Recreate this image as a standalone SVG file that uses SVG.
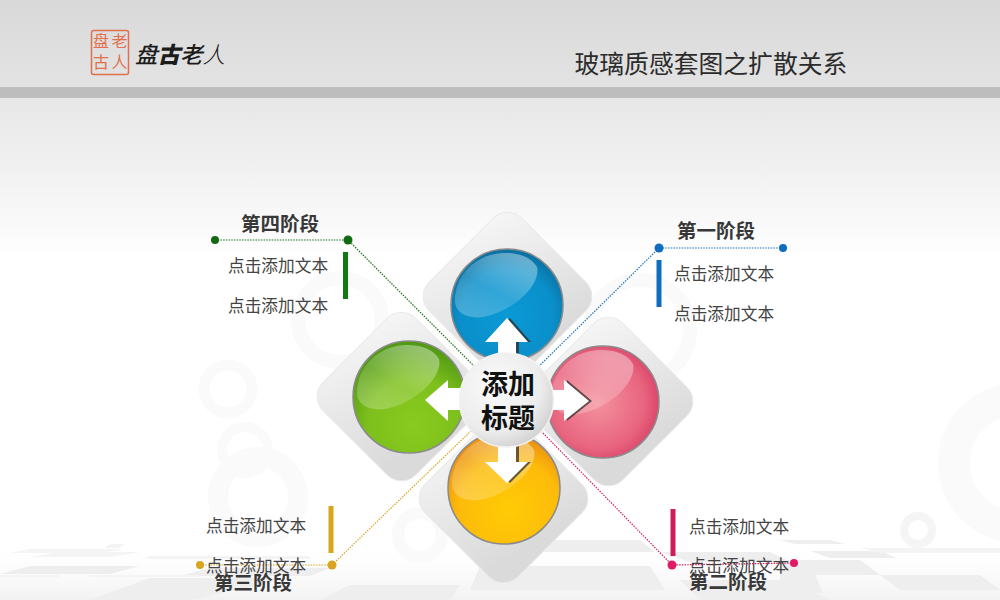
<svg xmlns="http://www.w3.org/2000/svg" width="1000" height="600" viewBox="0 0 1000 600">
<style>
text{font-family:"Noto Sans CJK SC","Noto Sans",sans-serif}
.t{font-size:16.7px;fill:#444}
.h{font-size:19.5px;font-weight:700;fill:#383838;text-anchor:middle}
.c{font-size:27px;font-weight:700;fill:#111;text-anchor:middle}
.s{font-size:16px;fill:#e2704c;text-anchor:middle}
.ring{fill:none;stroke:#fafafa}
.d{fill:url(#dg);stroke:#e9e9e9}
.tile{fill:#eeeeef}
.streak{fill:#f4f4f5}
.ln{fill:none;stroke-width:1.2;stroke-dasharray:1.5 1.2}
.sh{fill:#2e2a26;fill-opacity:.72}
.ar{fill:#fff}
.ball{stroke:#8a8a8a;stroke-width:1.5}
</style>
<defs>
<linearGradient id="top" x1="0" y1="0" x2="0" y2="1"><stop offset="0" stop-color="#d9d9d9"/><stop offset="1" stop-color="#e3e3e3"/></linearGradient>
<linearGradient id="sky" x1="0" y1="0" x2="0" y2="1"><stop offset="0" stop-color="#e7e7e7"/><stop offset=".45" stop-color="#f1f1f1"/><stop offset="1" stop-color="#fff"/></linearGradient>
<linearGradient id="floor" x1="0" y1="0" x2="0" y2="1"><stop offset="0" stop-color="#fff" stop-opacity="0"/><stop offset="1" stop-color="#f2f2f3"/></linearGradient>
<linearGradient id="dg" x1="0" y1="0" x2="1" y2=".3"><stop offset="0" stop-color="#f6f6f6"/><stop offset="1" stop-color="#dadada"/></linearGradient>
<radialGradient id="blue" cx=".5" cy=".6" r=".6"><stop offset="0" stop-color="#0a9ad6"/><stop offset=".7" stop-color="#0a8fca"/><stop offset="1" stop-color="#0a6f9f"/></radialGradient>
<radialGradient id="green" cx=".55" cy=".75" r=".7"><stop offset="0" stop-color="#8acb1f"/><stop offset=".6" stop-color="#7dbf1c"/><stop offset="1" stop-color="#529a14"/></radialGradient>
<radialGradient id="pink" cx=".45" cy=".5" r=".6"><stop offset="0" stop-color="#f4929f"/><stop offset=".7" stop-color="#e8647f"/><stop offset="1" stop-color="#d63c63"/></radialGradient>
<radialGradient id="orange" cx=".55" cy=".7" r=".65"><stop offset="0" stop-color="#ffcb05"/><stop offset=".7" stop-color="#fdbb0a"/><stop offset="1" stop-color="#ec9410"/></radialGradient>
<linearGradient id="gl" x1=".9" y1="0" x2=".2" y2="1"><stop offset="0" stop-color="#fff" stop-opacity=".42"/><stop offset=".6" stop-color="#fff" stop-opacity=".16"/><stop offset="1" stop-color="#fff" stop-opacity=".24"/></linearGradient>
<radialGradient id="hub" cx=".38" cy=".35" r=".75"><stop offset="0" stop-color="#fafafa"/><stop offset=".65" stop-color="#ececec"/><stop offset="1" stop-color="#c9c9c9"/></radialGradient>
<path id="gloss" d="M-52-3C-53-30-30-52-2-52C12-52 24-48 30-38C34-22 10 5-24 12C-40 14-51 8-52-3Z" fill="url(#gl)"/>
</defs>
<g id="background">
<rect width="1000" height="87" fill="url(#top)"/>
<rect y="87" width="1000" height="11" fill="#bdbdbd"/>
<rect y="98" width="1000" height="502" fill="#fff"/>
<rect y="98" width="1000" height="160" fill="url(#sky)"/>
<rect y="540" width="1000" height="60" fill="url(#floor)"/>
<g>
<path class="tile" d="M780 540H830L845 544H795ZM810 551H880L897 558H830ZM780 560H860L880 575H780ZM780 575H815L823 593H780ZM530 540H640L655 552H540ZM660 552H770L790 562H690ZM480 566H650L665 590H470ZM880 575H980L1000 590H900ZM680 580H790L830 600H700ZM350 585H460L450 600H320ZM30 566H140L110 574H0ZM210 568H330L310 576H180ZM150 578H290L190 600H90Z"/>
<path class="streak" d="M30 549H125L100 553H10ZM110 544H125L120 548H105ZM60 552H140L110 557H30ZM150 556H310V559H145ZM0 575H60V577H0ZM90 575H200V577H90ZM0 592H90V594H0ZM860 548H1000V553H880ZM880 596H1000V600H880Z"/>
</g>
<circle class="ring" cx="228" cy="389" r="24" stroke-width="11"/>
<circle class="ring" cx="245" cy="450" r="23" stroke-width="10"/>
<circle class="ring" cx="258" cy="497" r="40" stroke-width="20"/>
<circle class="ring" cx="340" cy="320" r="42" stroke-width="14"/>
<circle class="ring" cx="420" cy="535" r="22" stroke-width="12"/>
<circle class="ring" cx="1018" cy="463" r="64" stroke-width="32"/>
<circle class="ring" cx="918" cy="530" r="14" stroke-width="8" style="stroke:#f5f5f5"/>
<circle class="ring" cx="640" cy="330" r="50" stroke-width="14"/>
</g>
<g id="logo">
<rect x="91.500" y="30.500" width="37" height="44" fill="none" stroke="#e0714f" stroke-width="1.5" rx="2"/>
<text class="s" x="119.500" y="47">老</text>
<text class="s" x="119.500" y="68">人</text>
<text class="s" x="101" y="47">盘</text>
<text class="s" x="101" y="68">古</text>
<text x="135" y="63" font-size="22.500" font-style="italic" fill="#1c1c1c"><tspan font-weight="500">盘</tspan><tspan font-weight="900">古</tspan><tspan font-weight="500">老</tspan><tspan font-weight="300">人</tspan></text>
</g>
<text id="title" x="574.500" y="73" font-size="24.800" fill="#2b2b2b">玻璃质感套图之扩散关系</text>
<g id="connectors">
<path class="ln" stroke="#1a6e1a" d="M215 240L348 240L480 372"/>
<path class="ln" stroke="#1b73bd" d="M783 248L659 248L530 375"/>
<path class="ln" stroke="#d9a520" d="M200 565L332 565L472 430"/>
<path class="ln" stroke="#d81b60" d="M794 563L672 565L540 430"/>
</g>
<g id="diamond-top"><rect class="d" x="442" y="231" width="131" height="131" rx="20" transform="rotate(45 507.500 296.500)"/></g>
<g id="diamond-left"><rect class="d" x="336" y="331" width="131" height="131" rx="20" transform="rotate(45 401.500 396.500)"/></g>
<g id="diamond-right"><rect class="d" x="543" y="336" width="131" height="131" rx="20" transform="rotate(45 608.500 401.500)"/></g>
<g id="diamond-bottom"><rect class="d" x="438" y="433" width="131" height="131" rx="20" transform="rotate(45 503.500 498.500)"/></g>
<g id="ball-blue" transform="translate(507 305)"><circle class="ball" r="56" fill="url(#blue)"/><use href="#gloss"/></g>
<g id="ball-green" transform="translate(409 397)"><circle class="ball" r="56" fill="url(#green)"/><use href="#gloss"/></g>
<g id="ball-pink" transform="translate(603 402)"><circle class="ball" r="56" fill="url(#pink)"/><use href="#gloss"/></g>
<g id="ball-orange" transform="translate(504 488)"><circle class="ball" r="56" fill="url(#orange)"/><use href="#gloss"/></g>
<g id="arrow-up"><path class="sh" transform="translate(3 0)" d="M507 318L528 342H516V365H498V342H485Z"/><path class="ar" d="M507 318L528 342H516V365H498V342H485Z"/></g>
<g id="arrow-down"><path class="sh" transform="translate(3 0)" d="M498 440H516V462H528L507 483L485 462H498Z"/><path class="ar" d="M498 440H516V462H528L507 483L485 462H498Z"/></g>
<g id="arrow-left"><path class="ar" d="M425 400L448 380V388H470V410H448V421Z"/></g>
<g id="arrow-right"><path class="sh" transform="translate(3 0)" d="M550 390H564V380L589 401L564 421V410H550Z"/><path class="ar" d="M550 390H564V380L589 401L564 421V410H550Z"/></g>
<g id="hub-node"><circle cx="506.500" cy="400" r="47" fill="url(#hub)" stroke="#f2f2f2" stroke-width="1.5"/>
<text class="c" x="508" y="394">添加</text><text class="c" x="508" y="428">标题</text></g>
<g id="stage1">
<circle cx="659" cy="248" r="4.500" fill="#0f6dbf"/><circle cx="783" cy="248" r="4" fill="#0f6dbf"/>
<rect x="656.500" y="260" width="5" height="47" fill="#0f6dbf"/>
<text class="h" x="716" y="238">第一阶段</text>
<text class="t" x="674" y="280">点击添加文本</text><text class="t" x="674" y="320">点击添加文本</text>
</g>
<g id="stage2">
<rect x="670.500" y="509" width="5" height="47" fill="#d11c5c"/>
<text class="t" x="689" y="533">点击添加文本</text><text class="t" x="689" y="572">点击添加文本</text>
<circle cx="672" cy="565" r="4.500" fill="#e01a66"/><circle cx="794" cy="563" r="4" fill="#e01a66"/>
<text class="h" x="728" y="589">第二阶段</text>
</g>
<g id="stage3">
<rect x="328.500" y="506" width="5" height="47" fill="#d9a520"/>
<text class="t" x="206" y="532">点击添加文本</text><text class="t" x="206" y="572">点击添加文本</text>
<circle cx="200" cy="565" r="4" fill="#d9a520"/><circle cx="332" cy="565" r="4.500" fill="#d9a520"/>
<text class="h" x="253" y="590">第三阶段</text>
</g>
<g id="stage4">
<circle cx="215" cy="240" r="4" fill="#0f6a12"/><circle cx="348" cy="240" r="4.500" fill="#0f6a12"/>
<rect x="343" y="252" width="5" height="47" fill="#0f7a12"/>
<text class="h" x="280" y="231">第四阶段</text>
<text class="t" x="228" y="272">点击添加文本</text><text class="t" x="228" y="312">点击添加文本</text>
</g>
</svg>
